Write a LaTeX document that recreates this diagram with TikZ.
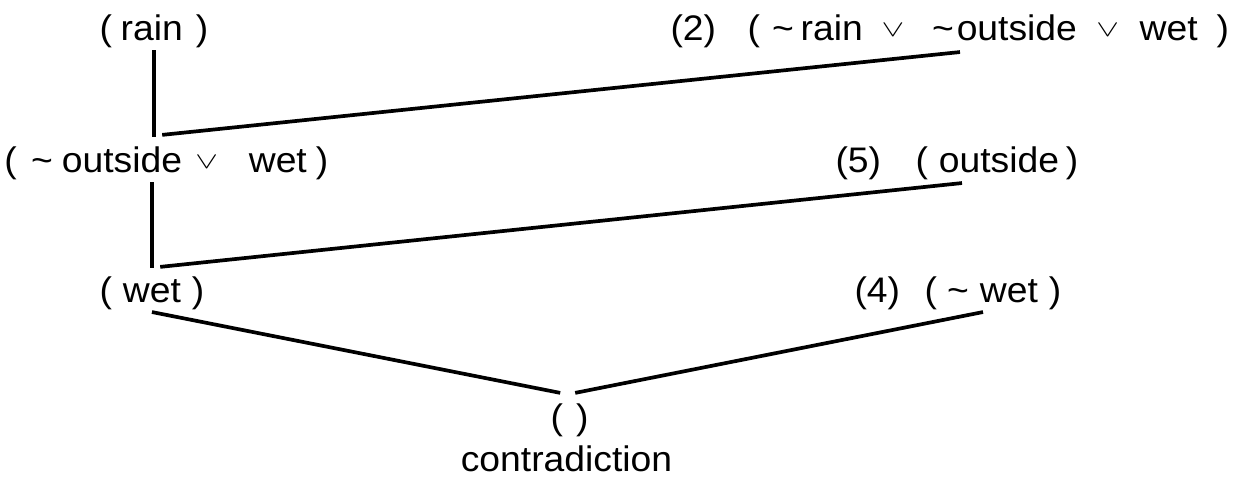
\documentclass[tikz,border=0pt]{standalone}
\usepackage{fontspec}
\usepackage{graphicx}
\setmainfont{Liberation Sans}[FakeStretch=1.05]
\usetikzlibrary{calc}
\newcommand\fs{\fontsize{35.5}{40}\selectfont}
\newcommand\V{{\normalsize\raisebox{4pt}{\scalebox{3.4}[2.3]{$\vee$}}}}
\newcommand\tl{\textasciitilde}
\begin{document}
\begin{tikzpicture}[x=1pt,y=-1pt,
  lbl/.style={inner xsep=0pt, inner ysep=2pt, anchor=base west, font=\fs},
  link/.style={line width=3.7pt, black}]
\fill[white] (0,0) rectangle (1242,477);
\useasboundingbox (0,0) rectangle (1242,477);
% row 1
\node[lbl] (n1) at (99.3,40.5) {(\hspace{8.8pt}rain\hspace{13.1pt})};
\node[lbl] (n2num) at (670.3,40.5) {(2)};
\node[lbl] (n2) at (747.3,40.5) {(\hspace{12.2pt}\tl\hspace{6.8pt}rain\hspace{18.7pt}\V\hspace{27.8pt}\tl\hspace{3pt}outside\hspace{19.4pt}\V\hspace{20.7pt}wet\hspace{19pt})};
% row 2
\node[lbl] (n3) at (4.3,172.5) {(\hspace{14.2pt}\tl\hspace{9pt}outside\hspace{13.4pt}\V\hspace{30.7pt}wet\hspace{9pt})};
\node[lbl] (n5num) at (835.3,172.5) {(5)};
\node[lbl] (n5) at (915.3,172.5) {(\hspace{11pt}outside\hspace{6.8pt})};
% row 3
\node[lbl] (n6) at (99.3,302.5) {(\hspace{11.1pt}wet\hspace{11pt})};
\node[lbl] (n4num) at (854.3,302.5) {(4)};
\node[lbl] (n4) at (924.3,302.5) {(\hspace{10.2pt}\tl\hspace{11.1pt}wet\hspace{11pt})};
% bottom
\node[lbl] (n7) at (550.3,429.5) {(\hspace{13.1pt})};
\node[lbl, anchor=base] (n8) at (566.5,471) {contradiction};
% junction points
\coordinate (j2a) at ($(n1.south |- n3.north)+(8.25,-9.7)$);
\coordinate (j2b) at ($(n2.south west)+(212.7,2)$);
\coordinate (j5a) at ($(n6.north)+(8.25,-7.7)$);
\coordinate (j5b) at ($(n5.south west)+(46.7,1)$);
\coordinate (j7a) at ($(n7.north)+(-9.25,-8.7)$);
\coordinate (j7b) at ($(n7.north)+(5.75,-8.7)$);
\coordinate (j4) at ($(n4.south west)+(58.7,0)$);
% connectors
\draw[link, shorten >=7.7pt] (n1.south) -- (n1.south |- n3.north);
\draw[link] (j2a) -- (j2b);
\draw[link, shorten >=6.7pt] (n6.north |- n3.south) -- (n6.north);
\draw[link] (j5a) -- (j5b);
\draw[link] (n6.south) -- (j7a);
\draw[link] (j7b) -- (j4);
\end{tikzpicture}
\end{document}
